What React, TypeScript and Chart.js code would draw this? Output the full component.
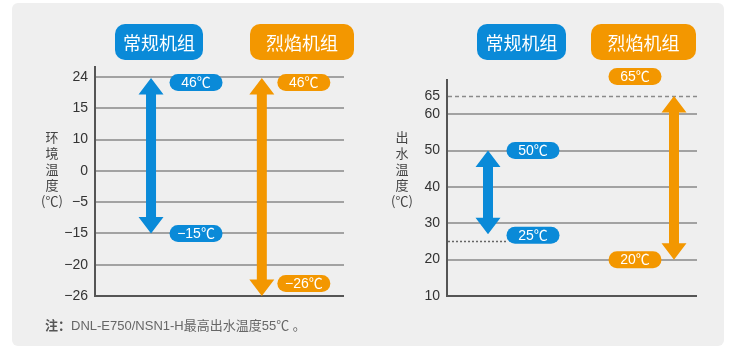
import React, { useEffect, useRef } from 'react';
import { Chart, registerables } from 'chart.js';

Chart.register(...registerables);

// ---------------- data ----------------
const units = ['常规机组', '烈焰机组'];

// left panel: ambient temperature (evenly spaced tick labels)
const ambientTicks = [24, 15, 10, 0, -5, -15, -20, -26];
const ambientHigh = [46, 46];
const ambientLow = [-15, -26];
const ambientTitle = ['环', '境', '温', '度', '(℃)'];

// right panel: outlet water temperature
const waterTicks = [10, 20, 30, 40, 50, 60, 65];
const waterHigh = [50, 65];
const waterLow = [27, 20]; // arrow tips as drawn
const waterHighLabel = [50, 65];
const waterLowLabel = [25, 20];
const waterLimit = 65; // dashed line
const waterMinRef = 25; // dotted line
const waterTitle = ['出', '水', '温', '度', '(℃)'];

const noteLabel = '注：';
const noteText = 'DNL-E750/NSN1-H最高出水温度55℃ 。';

// ---------------- styles ----------------
const COLORS = ['#0a8ad8', '#f39700'];
const GRID = '#a2a2a2';
const AXIS = '#555555';
const LATIN = '"Liberation Sans", Arial, "Noto Sans CJK SC", sans-serif';
const CJK = '"Noto Sans CJK SC", "Liberation Sans", sans-serif';

const fmt = (v: number) => (v < 0 ? '\u2212' + Math.abs(v) : String(v));

const ambientIndex = (v: number) => {
  const n = ambientTicks.length;
  if (v >= ambientTicks[0]) return 0;
  if (v <= ambientTicks[n - 1]) return n - 1;
  for (let i = 0; i < n - 1; i++) {
    const a = ambientTicks[i];
    const b = ambientTicks[i + 1];
    if (v <= a && v >= b) return i + (a - v) / (a - b);
  }
  return 0;
};

type Box = { x: number; y: number; w: number; h: number };
type Deco = {
  headers: Box[];
  title: string[];
  titleX: number;
  titleY: number;
  pillDx: number[];
  pillTopDy: number[];
  pillBotDy: number[];
  topText: string[];
  botText: string[];
  refLines?: (chart: any, pillLeft: (i: number) => number) => void;
};

const PILL_W = 53;
const PILL_H = 17;
const HEAD_W = 25;
const HEAD_H = 16.5;
const SHAFT_W = 10;

function roundRect(ctx: CanvasRenderingContext2D, x: number, y: number, w: number, h: number, r: number) {
  ctx.beginPath();
  ctx.moveTo(x + r, y);
  ctx.lineTo(x + w - r, y);
  ctx.arcTo(x + w, y, x + w, y + r, r);
  ctx.lineTo(x + w, y + h - r);
  ctx.arcTo(x + w, y + h, x + w - r, y + h, r);
  ctx.lineTo(x + r, y + h);
  ctx.arcTo(x, y + h, x, y + h - r, r);
  ctx.lineTo(x, y + r);
  ctx.arcTo(x, y, x + r, y, r);
  ctx.closePath();
}

function makeDeco(d: Deco) {
  return {
    id: 'deco',
    afterDraw(chart: any) {
      const ctx: CanvasRenderingContext2D = chart.ctx;
      const meta = chart.getDatasetMeta(0);
      ctx.save();

      // axis title (stacked characters)
      ctx.fillStyle = '#444';
      ctx.font = '13px ' + CJK;
      ctx.textAlign = 'center';
      ctx.textBaseline = 'middle';
      d.title.forEach((c, k) => ctx.fillText(c, d.titleX, d.titleY + k * 16));

      // headers
      units.forEach((u, i) => {
        const b = d.headers[i];
        ctx.fillStyle = COLORS[i];
        roundRect(ctx, b.x, b.y, b.w, b.h, 10);
        ctx.fill();
        ctx.fillStyle = '#fff';
        ctx.font = '18px ' + CJK;
        ctx.textAlign = 'center';
        ctx.textBaseline = 'middle';
        ctx.fillText(u, b.x + b.w / 2, b.y + b.h / 2 + 1);
      });

      const pillLeft = (i: number) => meta.data[i].x + d.pillDx[i] - PILL_W / 2;
      if (d.refLines) d.refLines(chart, pillLeft);

      meta.data.forEach((el: any, i: number) => {
        const x = el.x;
        const top = Math.min(el.y, el.base);
        const bot = Math.max(el.y, el.base);
        // double-headed arrow
        ctx.fillStyle = COLORS[i];
        ctx.beginPath();
        ctx.moveTo(x, top);
        ctx.lineTo(x + HEAD_W / 2, top + HEAD_H);
        ctx.lineTo(x + SHAFT_W / 2, top + HEAD_H);
        ctx.lineTo(x + SHAFT_W / 2, bot - HEAD_H);
        ctx.lineTo(x + HEAD_W / 2, bot - HEAD_H);
        ctx.lineTo(x, bot);
        ctx.lineTo(x - HEAD_W / 2, bot - HEAD_H);
        ctx.lineTo(x - SHAFT_W / 2, bot - HEAD_H);
        ctx.lineTo(x - SHAFT_W / 2, top + HEAD_H);
        ctx.lineTo(x - HEAD_W / 2, top + HEAD_H);
        ctx.closePath();
        ctx.fill();

        // value pills
        const pills: [number, string][] = [
          [top + d.pillTopDy[i], d.topText[i]],
          [bot + d.pillBotDy[i], d.botText[i]],
        ];
        pills.forEach(([cy, txt]) => {
          const cx = x + d.pillDx[i];
          ctx.fillStyle = COLORS[i];
          roundRect(ctx, cx - PILL_W / 2, cy - PILL_H / 2, PILL_W, PILL_H, PILL_H / 2);
          ctx.fill();
          ctx.fillStyle = '#fff';
          ctx.font = '14px ' + LATIN;
          ctx.textAlign = 'center';
          ctx.textBaseline = 'middle';
          ctx.fillText(txt, cx, cy + 1);
        });
      });
      ctx.restore();
    },
  };
}

function ChartCanvas({ build, left }: { build: (c: HTMLCanvasElement) => Chart; left: number }) {
  const ref = useRef<HTMLCanvasElement | null>(null);
  useEffect(() => {
    if (!ref.current) return;
    const chart = build(ref.current);
    return () => chart.destroy();
  }, [build]);
  return (
    <canvas
      ref={ref}
      width={375}
      height={362}
      style={{ position: 'absolute', left, top: 0, width: 375, height: 362 }}
    />
  );
}

const tickFont = { family: LATIN, size: 14 };

function buildLeft(canvas: HTMLCanvasElement) {
  const arrowX = [0.225, 0.67];
  const last = ambientTicks.length - 1;
  return new Chart(canvas, {
    type: 'bar',
    data: {
      datasets: [
        {
          data: units.map((_, i) => ({
            x: arrowX[i],
            y: [ambientIndex(ambientLow[i]), ambientIndex(ambientHigh[i])],
          })) as any,
          backgroundColor: 'rgba(0,0,0,0)',
          barThickness: 10,
        },
      ],
    },
    options: {
      responsive: false,
      animation: false,
      layout: { padding: { left: 0, right: 31, top: 67, bottom: 66 } },
      plugins: { legend: { display: false }, tooltip: { enabled: false } },
      scales: {
        x: { type: 'linear', min: 0, max: 1, display: false, offset: false, grid: { offset: false } },
        y: {
          type: 'linear',
          reverse: true,
          min: -0.32,
          max: last,
          afterBuildTicks: (s: any) => {
            s.ticks = ambientTicks.map((_, i) => ({ value: i }));
          },
          afterFit: (s: any) => {
            s.width = 95;
          },
          ticks: {
            padding: 7,
            color: '#333',
            font: tickFont,
            callback: (v: any) => fmt(ambientTicks[v as number]),
          },
          grid: {
            drawTicks: false,
            lineWidth: 2,
            color: (c: any) => (c.tick && c.tick.value === last ? AXIS : GRID),
          },
          border: { color: AXIS, width: 2 },
        },
      },
    } as any,
    plugins: [
      makeDeco({
        headers: [
          { x: 115, y: 24, w: 88, h: 36 },
          { x: 250, y: 24, w: 104, h: 36 },
        ],
        title: ambientTitle,
        titleX: 52,
        titleY: 137,
        pillDx: [45, 42],
        pillTopDy: [4.5, 4.5],
        pillBotDy: [0, -12.5],
        topText: ambientHigh.map((v) => fmt(v) + '℃'),
        botText: ambientLow.map((v) => fmt(v) + '℃'),
      }) as any,
    ],
  });
}

function buildRight(canvas: HTMLCanvasElement) {
  const arrowX = [0.164, 0.908];
  return new Chart(canvas, {
    type: 'bar',
    data: {
      datasets: [
        {
          data: units.map((_, i) => ({ x: arrowX[i], y: [waterLow[i], waterHigh[i]] })) as any,
          backgroundColor: 'rgba(0,0,0,0)',
          barThickness: 10,
        },
      ],
    },
    options: {
      responsive: false,
      animation: false,
      layout: { padding: { left: 0, right: 53, top: 80, bottom: 66 } },
      plugins: { legend: { display: false }, tooltip: { enabled: false } },
      scales: {
        x: { type: 'linear', min: 0, max: 1, display: false, offset: false, grid: { offset: false } },
        y: {
          type: 'linear',
          min: waterTicks[0],
          max: 69.4,
          afterBuildTicks: (s: any) => {
            s.ticks = waterTicks.map((v) => ({ value: v }));
          },
          afterFit: (s: any) => {
            s.width = 72;
          },
          ticks: { padding: 7, color: '#333', font: tickFont, callback: (v: any) => String(v) },
          grid: {
            drawTicks: false,
            lineWidth: 2,
            color: (c: any) =>
              c.tick && c.tick.value === waterTicks[0]
                ? AXIS
                : c.tick && c.tick.value === waterLimit
                ? 'rgba(0,0,0,0)'
                : GRID,
          },
          border: { color: AXIS, width: 2 },
        },
      },
    } as any,
    plugins: [
      makeDeco({
        headers: [
          { x: 102, y: 24, w: 89, h: 36 },
          { x: 216, y: 24, w: 105, h: 36 },
        ],
        title: waterTitle,
        titleX: 27,
        titleY: 137,
        pillDx: [45, -39],
        pillTopDy: [0, -19.5],
        pillBotDy: [1, 0],
        topText: waterHighLabel.map((v) => v + '℃'),
        botText: waterLowLabel.map((v) => v + '℃'),
        refLines: (chart: any, pillLeft) => {
          const ctx: CanvasRenderingContext2D = chart.ctx;
          const y = chart.scales.y;
          const a = chart.chartArea;
          ctx.save();
          ctx.lineWidth = 1.5;
          ctx.strokeStyle = '#8a8a8a';
          ctx.setLineDash([4, 3]);
          const y65 = Math.round(y.getPixelForValue(waterLimit)) + 0.5;
          ctx.beginPath();
          ctx.moveTo(a.left + 1, y65);
          ctx.lineTo(a.right + 1, y65);
          ctx.stroke();
          ctx.strokeStyle = '#666';
          ctx.setLineDash([2, 2]);
          const y25 = Math.round(y.getPixelForValue(waterMinRef)) + 0.5;
          ctx.beginPath();
          ctx.moveTo(a.left + 1, y25);
          ctx.lineTo(pillLeft(0), y25);
          ctx.stroke();
          ctx.restore();
        },
      }) as any,
    ],
  });
}

export default function App() {
  return (
    <div
      style={{
        position: 'fixed',
        left: 0,
        top: 0,
        width: 750,
        height: 362,
        background: '#ffffff',
        overflow: 'hidden',
      }}
    >
      <div
        style={{
          position: 'absolute',
          left: 12,
          top: 3,
          width: 712,
          height: 343,
          background: '#efefef',
          borderRadius: 6,
        }}
      />
      <ChartCanvas build={buildLeft} left={0} />
      <ChartCanvas build={buildRight} left={375} />
      <div
        style={{
          position: 'absolute',
          left: 45,
          top: 316,
          fontSize: 13,
          lineHeight: '18px',
          color: '#666',
          fontFamily: LATIN,
          whiteSpace: 'nowrap',
        }}
      >
        <span style={{ fontWeight: 'bold', color: '#555', fontFamily: CJK }}>{noteLabel}</span>
        <span>{noteText}</span>
      </div>
    </div>
  );
}
